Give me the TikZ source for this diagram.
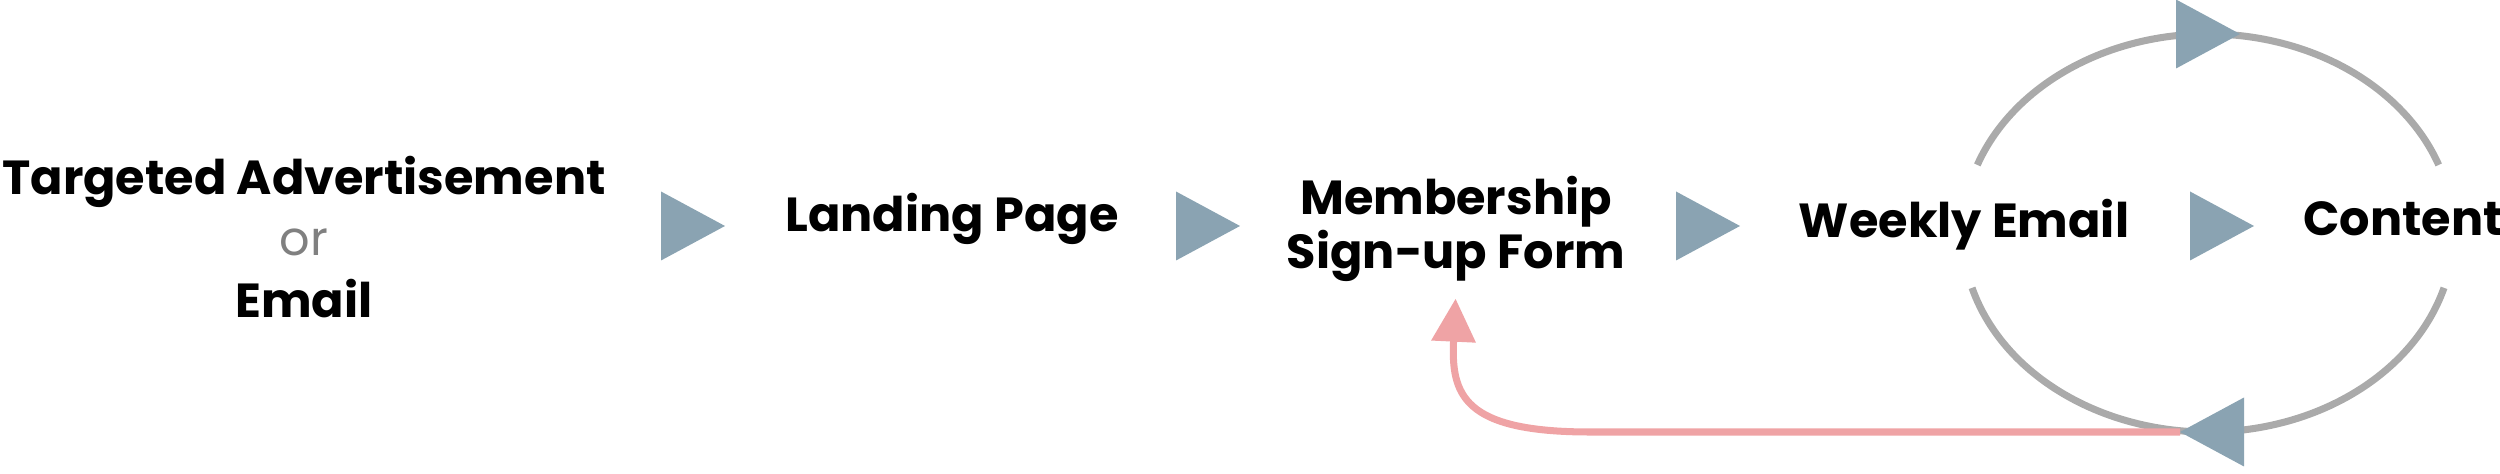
\documentclass[tikz,border=0pt]{standalone}
\usepackage{fontspec}
\setmainfont{Poppins}
\usepackage{tikz}
\usepackage{xcolor}
\usetikzlibrary{positioning, shapes.geometric, arrows.meta, calc}

\definecolor{stepblue}{RGB}{138,163,178}
\definecolor{loopgray}{RGB}{170,170,170}
\definecolor{backpink}{RGB}{239,163,165}
\definecolor{orgray}{RGB}{128,128,128}

\begin{document}
\begin{tikzpicture}[
  >=Stealth,
  every node/.style={font=\fontsize{13.6}{17.4}\selectfont\bfseries},
  stage/.style={align=center, inner sep=2pt},
  tri/.style={isosceles triangle, isosceles triangle stretches, fill=stepblue, draw=none,
    minimum width=0.69cm, minimum height=0.64cm, inner sep=0pt, outer sep=0pt, anchor=apex},
  loop/.style={draw=loopgray, line width=2pt},
  back/.style={draw=backpink, line width=2pt, -{Triangle[length=0.43cm, width=0.43cm]}}
]
\useasboundingbox (0,0) rectangle (25,4.74);

% Stages
\node[stage] (ad) at (3.04, 2.37) {Targeted Advertisement\\{\mdseries\color{orgray}or}\\Email};
\node[stage] (land) at (9.52, 2.55) {Landing Page};
\node[stage, font=\fontsize{13.6}{15.5}\selectfont\bfseries] (form) at (14.56, 2.45) {Membership\\Sign-up Form};
\node[stage] (weekly) at (19.64, 2.49) {Weekly Email};
\node[stage] (content) at (24.03, 2.55) {Content};

% Step arrows
\node[tri] (t1) at (7.25, 2.48) {};
\node[tri] (t2) at (12.40, 2.48) {};
\node[tri] (t3) at (17.40, 2.48) {};
\node[tri] (t4) at (22.54, 2.48) {};

% Weekly loop
\coordinate (loopc) at (22.08, 2.41);
\draw[loop] ($(loopc)+(160:2.455 and 1.99)$) arc[start angle=160, end angle=20, x radius=2.455, y radius=1.99];
\draw[loop] ($(loopc)+(196:2.455 and 1.99)$) arc[start angle=196, end angle=344, x radius=2.455, y radius=1.99];
\node[tri] (top) at (22.40, 4.40) {};
\node[tri, shape border rotate=180] (bot) at (21.80, 0.42) {};

% Back to sign-up
\draw[back, shorten >=0.09cm] (bot.apex) -- (15.9, 0.42) .. controls (14.62, 0.42) and (14.51, 0.8) .. (form.south);

\end{tikzpicture}
\end{document}
